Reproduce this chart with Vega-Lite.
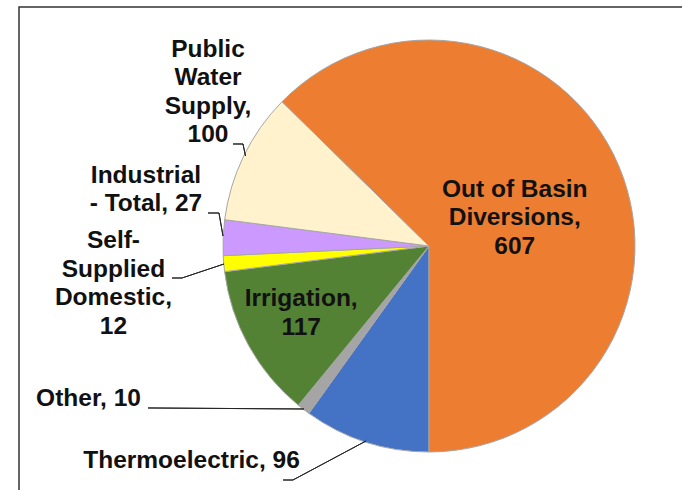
{
  "$schema": "https://vega.github.io/schema/vega-lite/v6.json",
  "width": 664,
  "height": 484,
  "autosize": {"type": "none"},
  "padding": {"left": 19, "top": 7, "right": -1, "bottom": -1},
  "background": "white",
  "view": {"stroke": "#333333", "strokeWidth": 1.5, "fill": "white"},
  "data": {
    "values": [
      {"category": "Thermoelectric", "value": 96, "order": 1, "label": "Thermoelectric, 96"},
      {"category": "Other", "value": 10, "order": 2, "label": "Other, 10"},
      {"category": "Irrigation", "value": 117, "order": 3, "label": "Irrigation,\n117"},
      {"category": "Self-Supplied Domestic", "value": 12, "order": 4, "label": "Self-\nSupplied\nDomestic,\n12"},
      {"category": "Industrial - Total", "value": 27, "order": 5, "label": "Industrial\n- Total, 27"},
      {"category": "Public Water Supply", "value": 100, "order": 6, "label": "Public\nWater\nSupply,\n100"},
      {"category": "Out of Basin Diversions", "value": 607, "order": 7, "label": "Out of Basin\nDiversions,\n607"}
    ]
  },
  "encoding": {
    "theta": {"field": "value", "type": "quantitative", "stack": true, "scale": {"range": [3.14159265, 9.42477796]}},
    "order": {"field": "order", "type": "quantitative"}
  },
  "layer": [
    {
      "mark": {"type": "arc", "radius": 206, "stroke": "#a6a6a6", "strokeWidth": 1, "xOffset": 78, "yOffset": -3},
      "encoding": {
        "color": {
          "field": "category", "type": "nominal", "legend": null,
          "scale": {
            "domain": ["Thermoelectric", "Other", "Irrigation", "Self-Supplied Domestic", "Industrial - Total", "Public Water Supply", "Out of Basin Diversions"],
            "range": ["#4472C4", "#A5A5A5", "#548235", "#FFFF00", "#CC99FF", "#FFF2CC", "#ED7D31"]
          }
        }
      }
    },
    {
      "mark": {"type": "arc", "radius": 11, "radius2": 1, "padAngle": 3, "thetaOffset": -0.4522, "theta2Offset": -0.4522, "xOffset": -107, "yOffset": -105, "filled": false, "stroke": "#262626", "strokeWidth": 1},
      "encoding": {"strokeOpacity": {"condition": {"test": "datum.category === 'Public Water Supply'", "value": 1}, "value": 0}}
    },
    {
      "mark": {"type": "arc", "radius": 13.26, "radius2": 1, "padAngle": 3, "thetaOffset": 0.9132, "theta2Offset": 0.9132, "xOffset": -105.3, "yOffset": -92.02, "filled": false, "stroke": "#262626", "strokeWidth": 1},
      "encoding": {"strokeOpacity": {"condition": {"test": "datum.category === 'Public Water Supply'", "value": 1}, "value": 0}}
    },
    {
      "mark": {"type": "arc", "radius": 12, "radius2": 1, "padAngle": 3, "thetaOffset": -0.0405, "theta2Offset": -0.0405, "xOffset": -131, "yOffset": -36, "filled": false, "stroke": "#262626", "strokeWidth": 1},
      "encoding": {"strokeOpacity": {"condition": {"test": "datum.category === 'Industrial - Total'", "value": 1}, "value": 0}}
    },
    {
      "mark": {"type": "arc", "radius": 24.35, "radius2": 1, "padAngle": 3, "thetaOffset": 1.3581, "theta2Offset": 1.3581, "xOffset": -127.83, "yOffset": -12.01, "filled": false, "stroke": "#262626", "strokeWidth": 1},
      "encoding": {"strokeOpacity": {"condition": {"test": "datum.category === 'Industrial - Total'", "value": 1}, "value": 0}}
    },
    {
      "mark": {"type": "arc", "radius": 11, "radius2": 1, "padAngle": 3, "thetaOffset": 0.0859, "theta2Offset": 0.0859, "xOffset": -168, "yOffset": 29, "filled": false, "stroke": "#262626", "strokeWidth": 1},
      "encoding": {"strokeOpacity": {"condition": {"test": "datum.category === 'Self-Supplied Domestic'", "value": 1}, "value": 0}}
    },
    {
      "mark": {"type": "arc", "radius": 45.27, "radius2": 1, "padAngle": 3, "thetaOffset": -0.2358, "theta2Offset": -0.2358, "xOffset": -126.05, "yOffset": 14.68, "filled": false, "stroke": "#262626", "strokeWidth": 1},
      "encoding": {"strokeOpacity": {"condition": {"test": "datum.category === 'Self-Supplied Domestic'", "value": 1}, "value": 0}}
    },
    {
      "mark": {"type": "arc", "radius": 157, "radius2": 1, "padAngle": 3, "thetaOffset": 0.9225, "theta2Offset": 0.9225, "xOffset": -46, "yOffset": 160, "filled": false, "stroke": "#262626", "strokeWidth": 1},
      "encoding": {"strokeOpacity": {"condition": {"test": "datum.category === 'Other'", "value": 1}, "value": 0}}
    },
    {
      "mark": {"type": "arc", "radius": 11, "radius2": 1, "padAngle": 3, "thetaOffset": 1.2596, "theta2Offset": 1.2596, "xOffset": -57, "yOffset": 231, "filled": false, "stroke": "#262626", "strokeWidth": 1},
      "encoding": {"strokeOpacity": {"condition": {"test": "datum.category === 'Thermoelectric'", "value": 1}, "value": 0}}
    },
    {
      "mark": {"type": "arc", "radius": 83.76, "radius2": 1, "padAngle": 3, "thetaOffset": 0.7691, "theta2Offset": 0.7691, "xOffset": 15.88, "yOffset": 191.53, "filled": false, "stroke": "#262626", "strokeWidth": 1},
      "encoding": {"strokeOpacity": {"condition": {"test": "datum.category === 'Thermoelectric'", "value": 1}, "value": 0}}
    },
    {
      "mark": {"type": "text", "radius": 93, "xOffset": 78, "yOffset": -3, "dy": -20.5, "font": "Liberation Sans", "fontSize": 24.5, "fontWeight": "bold", "lineBreak": "\n", "lineHeight": 28.5, "align": "center", "baseline": "middle", "color": "#111111"},
      "encoding": {"text": {"condition": {"test": "datum.category === 'Out of Basin Diversions'", "field": "label"}, "value": ""}}
    },
    {
      "mark": {"type": "text", "radius": 146, "xOffset": 78, "yOffset": -3, "dy": -17.25, "font": "Liberation Sans", "fontSize": 24.5, "fontWeight": "bold", "lineBreak": "\n", "lineHeight": 28.5, "align": "center", "baseline": "middle", "color": "#111111"},
      "encoding": {"text": {"condition": {"test": "datum.category === 'Irrigation'", "field": "label"}, "value": ""}}
    },
    {
      "mark": {"type": "text", "radius": 206, "xOffset": 78, "yOffset": -3, "dx": -35.7, "dy": -106.25, "font": "Liberation Sans", "fontSize": 24.5, "fontWeight": "bold", "lineBreak": "\n", "lineHeight": 28.5, "align": "center", "baseline": "middle", "color": "#111111"},
      "encoding": {"text": {"condition": {"test": "datum.category === 'Public Water Supply'", "field": "label"}, "value": ""}}
    },
    {
      "mark": {"type": "text", "radius": 206, "xOffset": 78, "yOffset": -3, "dx": -77.2, "dy": -61.95, "font": "Liberation Sans", "fontSize": 24.5, "fontWeight": "bold", "lineBreak": "\n", "lineHeight": 28.5, "align": "center", "baseline": "middle", "color": "#111111"},
      "encoding": {"text": {"condition": {"test": "datum.category === 'Industrial - Total'", "field": "label"}, "value": ""}}
    },
    {
      "mark": {"type": "text", "radius": 206, "xOffset": 78, "yOffset": -3, "dx": -110.3, "dy": -22.45, "font": "Liberation Sans", "fontSize": 24.5, "fontWeight": "bold", "lineBreak": "\n", "lineHeight": 28.5, "align": "center", "baseline": "middle", "color": "#111111"},
      "encoding": {"text": {"condition": {"test": "datum.category === 'Self-Supplied Domestic'", "field": "label"}, "value": ""}}
    },
    {
      "mark": {"type": "text", "radius": 206, "xOffset": 78, "yOffset": -3, "dx": -215, "dy": -9.9, "font": "Liberation Sans", "fontSize": 24.5, "fontWeight": "bold", "lineBreak": "\n", "lineHeight": 28.5, "align": "center", "baseline": "middle", "color": "#111111"},
      "encoding": {"text": {"condition": {"test": "datum.category === 'Other'", "field": "label"}, "value": ""}}
    },
    {
      "mark": {"type": "text", "radius": 206, "xOffset": 78, "yOffset": -3, "dx": -174.4, "dy": 18.4, "font": "Liberation Sans", "fontSize": 24.5, "fontWeight": "bold", "lineBreak": "\n", "lineHeight": 28.5, "align": "center", "baseline": "middle", "color": "#111111"},
      "encoding": {"text": {"condition": {"test": "datum.category === 'Thermoelectric'", "field": "label"}, "value": ""}}
    }
  ]
}
